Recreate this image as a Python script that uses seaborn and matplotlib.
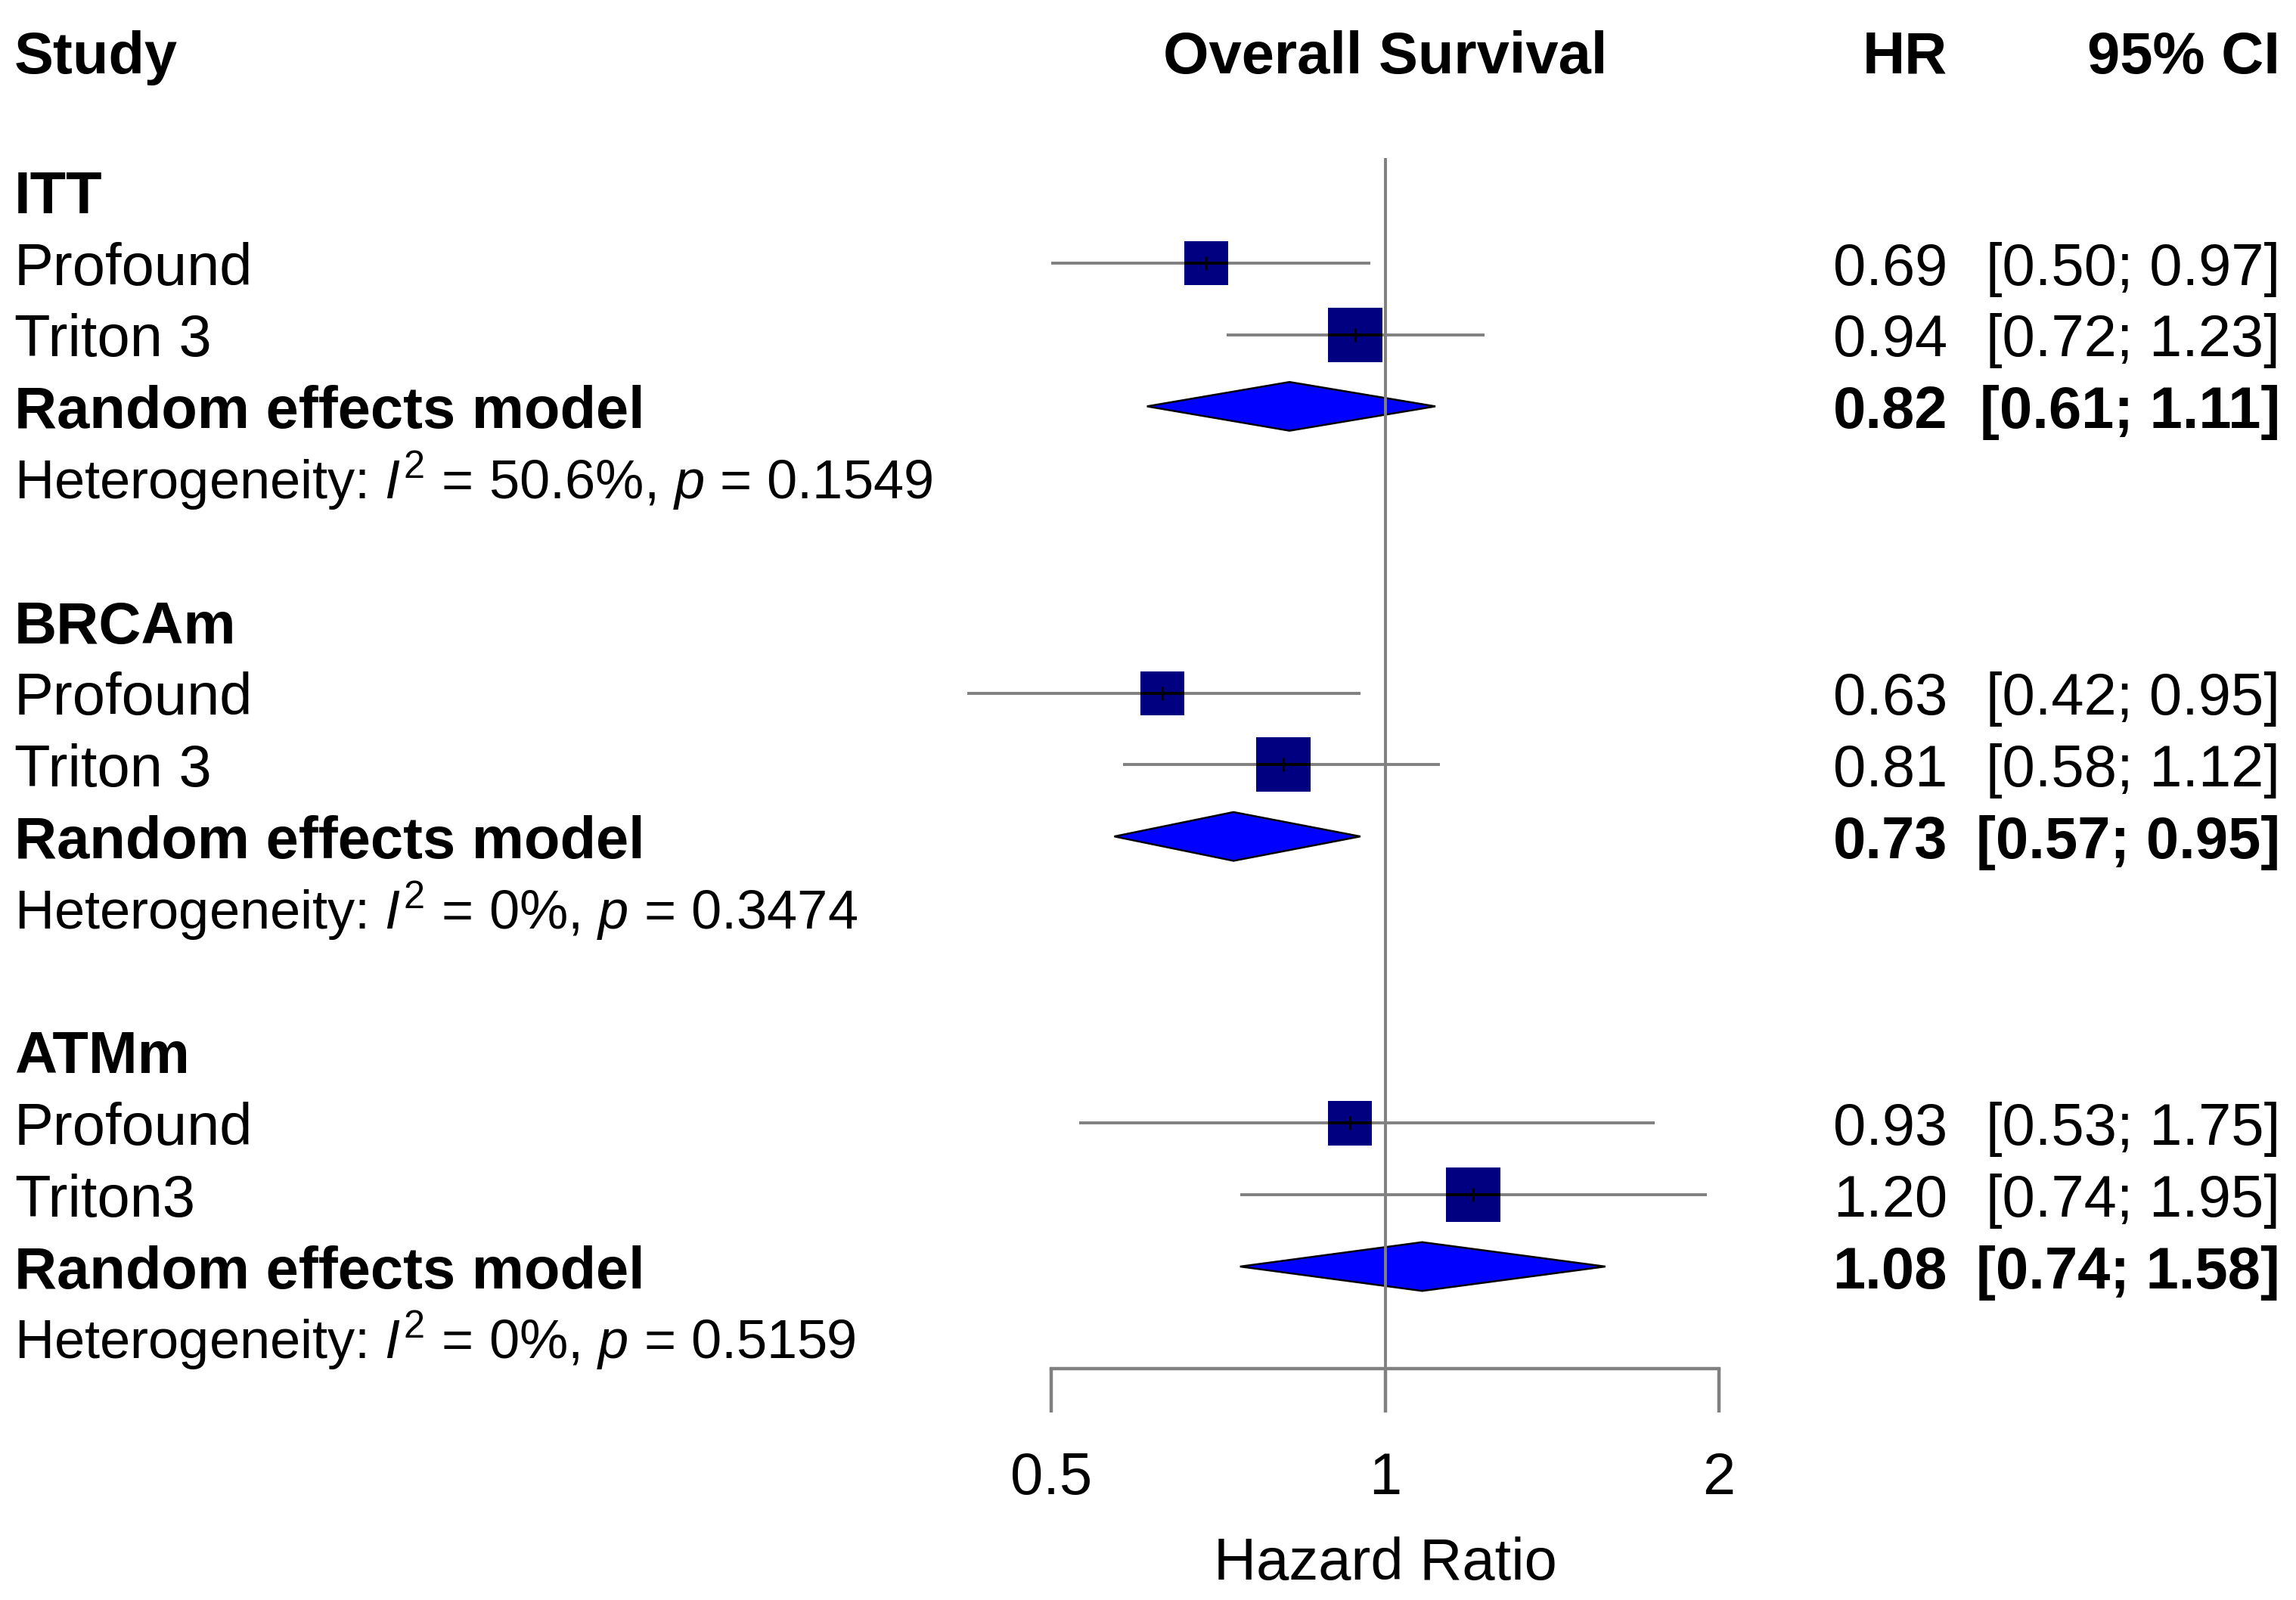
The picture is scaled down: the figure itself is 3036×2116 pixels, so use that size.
import matplotlib
matplotlib.use("Agg")
import matplotlib.pyplot as plt
import matplotlib.transforms as mtransforms
from matplotlib.patches import Polygon
from matplotlib.ticker import NullLocator
import seaborn as sns
import pandas as pd
import numpy as np

# ---------------- data ----------------
groups = ["ITT", "BRCAm", "ATMm"]
study_group = ["ITT", "ITT", "BRCAm", "BRCAm", "ATMm", "ATMm"]
study_names = ["Profound", "Triton 3", "Profound", "Triton 3", "Profound", "Triton3"]
study_hr = [0.69, 0.94, 0.63, 0.81, 0.93, 1.20]
study_lo = [0.50, 0.72, 0.42, 0.58, 0.53, 0.74]
study_hi = [0.97, 1.23, 0.95, 1.12, 1.75, 1.95]
study_weight = [39.5, 60.5, 39.5, 60.5, 39.6, 60.4]
pooled_hr = [0.82, 0.73, 1.08]
pooled_lo = [0.61, 0.57, 0.74]
pooled_hi = [1.11, 0.95, 1.58]
het_i2 = ["50.6%", "0%", "0%"]
het_p = ["0.1549", "0.3474", "0.5159"]
x_ticks = [0.5, 1, 2]
x_tick_labels = ["0.5", "1", "2"]

# ---------------- style ----------------
sns.set_theme(style="white")
plt.rcParams["font.family"] = ["Liberation Sans", "DejaVu Sans"]
plt.rcParams["mathtext.fontset"] = "custom"
plt.rcParams["mathtext.rm"] = "Liberation Sans"
plt.rcParams["mathtext.it"] = "Liberation Sans:italic"
plt.rcParams["mathtext.bf"] = "Liberation Sans:bold"

NAVY = "#000080"
BLUE = "#0000FF"
GRAY = "#808080"
FS = 56
FS_HET = 52

W, H, DPI = 3036, 2116, 100
fig = plt.figure(figsize=(W / DPI, H / DPI), dpi=DPI)
fig.patch.set_facecolor("white")

ax_left, ax_right = 1390, 2273
ax_top, ax_bottom = 209, 1810
ax = fig.add_axes([ax_left / W, 1 - ax_bottom / H,
                   (ax_right - ax_left) / W, (ax_bottom - ax_top) / H])

row0_px, row_step = 253, 94.8
ax.set_xscale("log", base=2)
ax.set_xlim(0.5, 2)
ax.set_ylim((ax_bottom - row0_px) / row_step, (ax_top - row0_px) / row_step)

# row layout
study_rows = []
for i, g in enumerate(study_group):
    k = groups.index(g)
    j = study_group[:i].count(g)
    study_rows.append(6 * k + 1 + j)
group_rows = [6 * k for k in range(len(groups))]
pooled_rows = [6 * k + 3 for k in range(len(groups))]
het_rows = [6 * k + 4 for k in range(len(groups))]

fig_x = mtransforms.blended_transform_factory(fig.transFigure, ax.transData)


def txt(x, row, s, ha="left", weight="normal", size=FS, trans=None):
    base = fig_x if trans is None else trans
    t = mtransforms.offset_copy(base, fig=fig, y=-0.37 * size, units="points")
    ax.text(x, row, s, transform=t, ha=ha, va="baseline", fontsize=size,
            fontweight=weight, color="black", clip_on=False)


X_STUDY = 19 / W
X_HR = 2575 / W
X_CI = 3015 / W
HEAD_ROW = -1.95

# headers
txt(X_STUDY, HEAD_ROW, "Study", weight="bold")
txt(1, HEAD_ROW, "Overall Survival", ha="center", weight="bold", trans=ax.transData)
txt(X_HR, HEAD_ROW, "HR", ha="right", weight="bold")
txt(X_CI, HEAD_ROW, "95% CI", ha="right", weight="bold")

# group labels, pooled, heterogeneity
for k, g in enumerate(groups):
    txt(X_STUDY, group_rows[k], g, weight="bold")
    txt(X_STUDY, pooled_rows[k], "Random effects model", weight="bold")
    txt(X_HR, pooled_rows[k], f"{pooled_hr[k]:.2f}", ha="right", weight="bold")
    txt(X_CI, pooled_rows[k], f"[{pooled_lo[k]:.2f}; {pooled_hi[k]:.2f}]", ha="right", weight="bold")
    txt(X_STUDY, het_rows[k],
        f"Heterogeneity: $I^2$ = {het_i2[k]}, $p$ = {het_p[k]}", size=FS_HET)

# studies text
for i in range(len(study_names)):
    r = study_rows[i]
    txt(X_STUDY, r, study_names[i])
    txt(X_HR, r, f"{study_hr[i]:.2f}", ha="right")
    txt(X_CI, r, f"[{study_lo[i]:.2f}; {study_hi[i]:.2f}]", ha="right")

# CI lines
LW_CI = 2.8
for i in range(len(study_names)):
    ax.plot([study_lo[i], study_hi[i]], [study_rows[i], study_rows[i]],
            color=GRAY, lw=LW_CI, solid_capstyle="butt", zorder=2, clip_on=False)

# squares via seaborn
df = pd.DataFrame({"hr": study_hr, "row": study_rows, "weight": study_weight})
S_MAX = 2685.0
wmax = max(study_weight)
sns.scatterplot(data=df, x="hr", y="row", size="weight", sizes=(0, S_MAX),
                size_norm=(0, wmax), marker="s", color=NAVY, linewidth=0,
                legend=False, ax=ax, zorder=3, clip_on=False)

# black CI line inside square + centre tick
for i in range(len(study_names)):
    side = np.sqrt(S_MAX * study_weight[i] / wmax)
    ax.plot([study_hr[i]], [study_rows[i]], marker="_", ms=side, mew=LW_CI,
            color="black", zorder=4, clip_on=False)
    ax.plot([study_hr[i]], [study_rows[i]], marker="|", ms=13, mew=2.0,
            color="black", zorder=4, clip_on=False)

# diamonds
DH = 0.34
for k in range(len(groups)):
    r = pooled_rows[k]
    poly = Polygon([(pooled_lo[k], r), (pooled_hr[k], r - DH),
                    (pooled_hi[k], r), (pooled_hr[k], r + DH)],
                   closed=True, facecolor=BLUE, edgecolor="black", lw=1.8,
                   zorder=2, clip_on=False)
    ax.add_patch(poly)

# reference line
ax.axvline(1, color=GRAY, lw=2.8, zorder=2.5)

# axis
for s in ["top", "left", "right"]:
    ax.spines[s].set_visible(False)
ax.spines["bottom"].set_visible(True)
ax.spines["bottom"].set_color(GRAY)
ax.spines["bottom"].set_linewidth(3.2)
ax.set_xticks(x_ticks)
ax.set_xticklabels(x_tick_labels)
ax.xaxis.set_minor_locator(NullLocator())
ax.tick_params(axis="x", which="major", bottom=True, direction="out",
               length=41.8, width=3.2, color=GRAY, labelsize=FS, pad=37,
               labelcolor="black")
ax.set_yticks([])
ax.set_ylabel("")
ax.set_xlabel("Hazard Ratio", fontsize=FS, color="black")
ax.xaxis.set_label_coords(0.5, (ax_bottom - 2068) / (ax_bottom - ax_top))
ax.xaxis.label.set_va("center")
ax.grid(False)
ax.set_facecolor("white")

fig.savefig("out.png", dpi=DPI, facecolor="white")
